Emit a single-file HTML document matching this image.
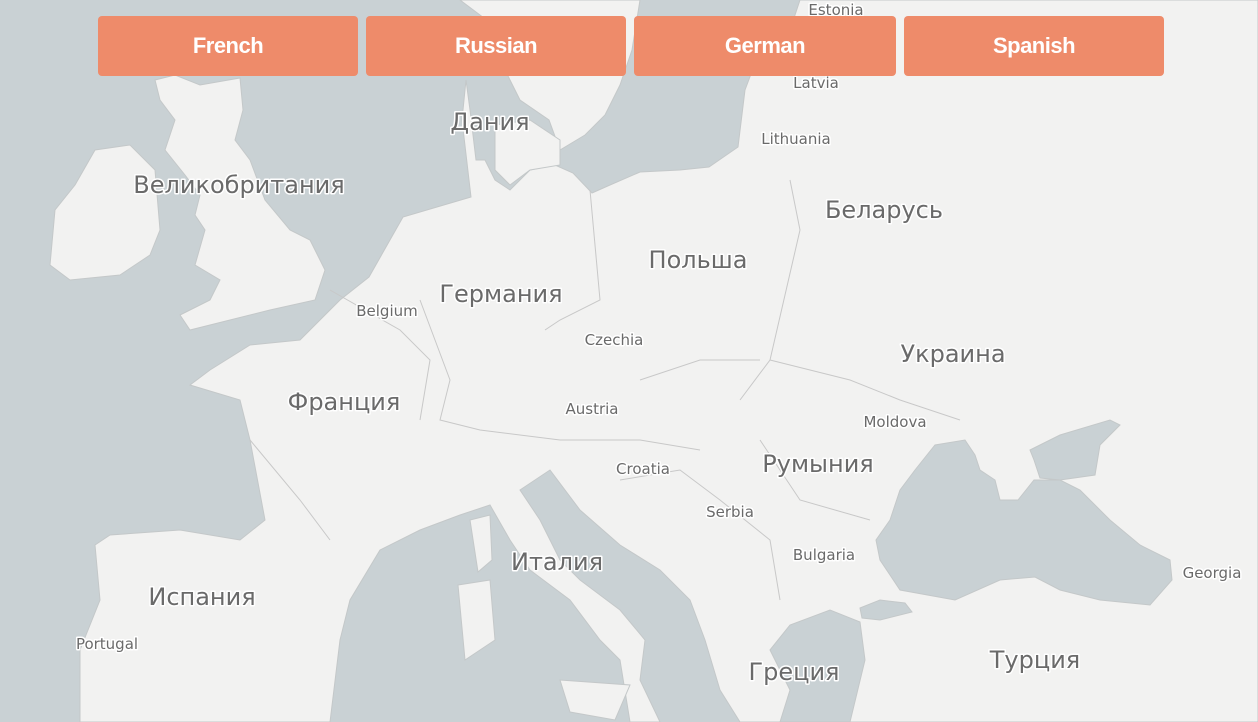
<!DOCTYPE html>
<html><head><meta charset="utf-8"><style>
html,body{margin:0;padding:0;width:1258px;height:722px;overflow:hidden;background:#c9d1d4}
svg{position:absolute;left:0;top:0}
.btn{position:absolute;top:16px;width:260px;height:60px;background:#ee8b6a;border-radius:4px;color:#fff;font:bold 22px "Liberation Sans",sans-serif;display:flex;align-items:center;justify-content:center;cursor:pointer;letter-spacing:-0.5px}
text{font-family:"DejaVu Sans","Liberation Sans",sans-serif;fill:#6a6a6a;paint-order:stroke;stroke:#fff;stroke-width:3px;stroke-linejoin:round}
.big{font-size:24px}
.sm{font-size:15px}
</style></head><body>
<svg width="1258" height="722">
<g fill="#f2f2f1" stroke="#c4c8c9" stroke-width="1">
<polygon points="1258,0 800,0 790,30 760,50 745,90 738,147 709,167 680,170 640,172 610,185 592,193 573,173 555,165 530,170 510,190 495,180 485,160 476,160 470,110 466,80 462,120 471,197 437,207 403,217 369,277 340,300 320,320 300,340 250,345 210,370 190,385 240,400 250,440 265,520 240,540 180,530 110,535 95,545 100,600 80,650 80,722 330,722 340,640 350,600 380,550 420,530 460,515 490,505 510,540 530,570 570,600 600,640 620,660 630,722 660,722 640,680 645,640 620,610 580,580 560,560 540,520 520,490 550,470 580,510 620,545 660,570 690,600 705,640 720,690 740,722 1258,722"/>
<polygon points="460,0 640,0 632,50 620,85 605,115 585,135 560,150 549,120 520,100 505,70 500,30"/>
<polygon points="495,125 530,120 560,140 560,165 530,170 510,185 495,170"/>
<polygon points="75,185 95,150 130,145 155,170 160,230 150,255 120,275 70,280 50,265 55,210"/>
<polygon points="155,80 175,75 200,85 240,78 243,110 235,140 250,160 265,200 290,230 310,240 325,270 315,300 270,310 230,320 190,330 180,315 210,300 220,280 195,265 205,230 195,215 200,195 185,175 165,150 175,120 160,100"/>
<polygon points="470,520 490,515 492,560 478,572"/>
<polygon points="458,585 490,580 495,640 465,660"/>
<polygon points="560,680 630,685 615,720 570,712"/>
</g>
<g fill="#c9d1d4" stroke="#c4c8c9">
<polygon points="900,490 915,470 935,445 965,440 975,455 980,470 995,480 1000,500 1018,500 1034,480 1060,480 1080,490 1110,520 1140,545 1170,560 1172,580 1150,605 1100,600 1060,590 1035,577 1000,580 955,600 900,590 880,560 876,540 890,520"/>
<polygon points="1030,450 1060,435 1110,420 1120,425 1100,445 1095,475 1060,480 1040,478 1034,460"/>
<polygon points="860,608 880,600 905,603 912,612 880,620 862,618"/>
<polygon points="780,722 790,690 770,650 790,625 830,610 860,622 865,660 850,722"/>
</g>
<g fill="none" stroke="#c8c8c8" stroke-width="1">
<polyline points="590,190 600,300 560,320 545,330"/>
<polyline points="790,180 800,230 770,360 740,400"/>
<polyline points="770,360 850,380 900,400 960,420"/>
<polyline points="420,300 450,380 440,420 480,430 560,440 640,440 700,450"/>
<polyline points="330,290 400,330 430,360 420,420"/>
<polyline points="250,440 300,500 330,540"/>
<polyline points="640,380 700,360 760,360"/>
<polyline points="760,440 800,500 870,520"/>
<polyline points="620,480 680,470 720,500 770,540 780,600"/>
</g>
<text class="big" x="490" y="130" text-anchor="middle">Дания</text>
<text class="big" x="239" y="193" text-anchor="middle">Великобритания</text>
<text class="big" x="501" y="302" text-anchor="middle">Германия</text>
<text class="big" x="698" y="268" text-anchor="middle">Польша</text>
<text class="big" x="884" y="218" text-anchor="middle">Беларусь</text>
<text class="big" x="953" y="362" text-anchor="middle">Украина</text>
<text class="big" x="344" y="410" text-anchor="middle">Франция</text>
<text class="big" x="818" y="472" text-anchor="middle">Румыния</text>
<text class="big" x="557" y="570" text-anchor="middle">Италия</text>
<text class="big" x="202" y="605" text-anchor="middle">Испания</text>
<text class="big" x="794" y="680" text-anchor="middle">Греция</text>
<text class="big" x="1035" y="668" text-anchor="middle">Турция</text>
<text class="sm" x="836" y="15" text-anchor="middle">Estonia</text>
<text class="sm" x="816" y="88" text-anchor="middle">Latvia</text>
<text class="sm" x="796" y="144" text-anchor="middle">Lithuania</text>
<text class="sm" x="387" y="316" text-anchor="middle">Belgium</text>
<text class="sm" x="614" y="345" text-anchor="middle">Czechia</text>
<text class="sm" x="592" y="414" text-anchor="middle">Austria</text>
<text class="sm" x="895" y="427" text-anchor="middle">Moldova</text>
<text class="sm" x="643" y="474" text-anchor="middle">Croatia</text>
<text class="sm" x="730" y="517" text-anchor="middle">Serbia</text>
<text class="sm" x="824" y="560" text-anchor="middle">Bulgaria</text>
<text class="sm" x="1212" y="578" text-anchor="middle">Georgia</text>
<text class="sm" x="107" y="649" text-anchor="middle">Portugal</text>
</svg>
<div class="btn" style="left:98px">French</div>
<div class="btn" style="left:366px">Russian</div>
<div class="btn" style="left:634px;width:262px">German</div>
<div class="btn" style="left:904px">Spanish</div>
</body></html>
